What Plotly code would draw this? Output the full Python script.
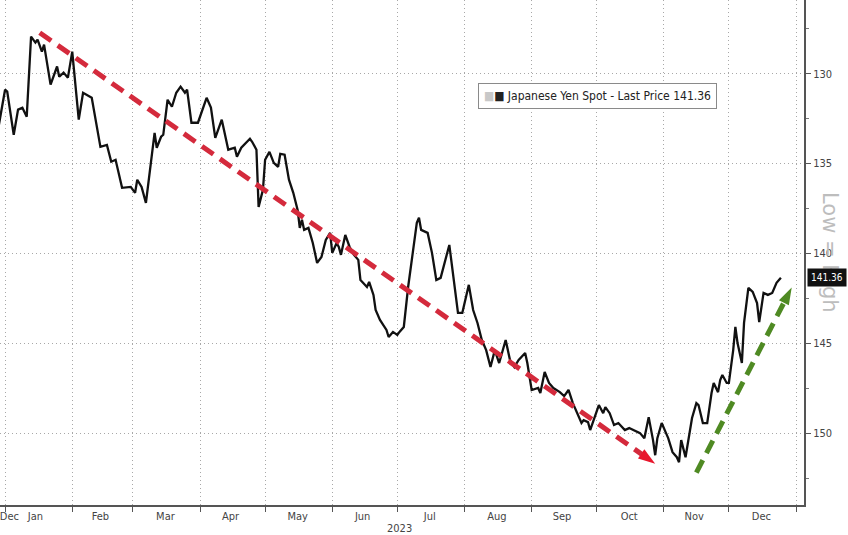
import plotly.graph_objects as go

# ---- data ----
dates = [
    "2022-12-29", "2023-01-01", "2023-01-02", "2023-01-05", "2023-01-07", "2023-01-09", "2023-01-11",
    "2023-01-13", "2023-01-15", "2023-01-16", "2023-01-18", "2023-01-19", "2023-01-22", "2023-01-25",
    "2023-01-26", "2023-01-28", "2023-01-30",
    "2023-02-01", "2023-02-04", "2023-02-06", "2023-02-10", "2023-02-14", "2023-02-17", "2023-02-19",
    "2023-02-21", "2023-02-24", "2023-02-28",
    "2023-03-02", "2023-03-03", "2023-03-05", "2023-03-07", "2023-03-09", "2023-03-11", "2023-03-12",
    "2023-03-14", "2023-03-15", "2023-03-17", "2023-03-19", "2023-03-21", "2023-03-23", "2023-03-25",
    "2023-03-26", "2023-03-28", "2023-03-31",
    "2023-04-04", "2023-04-06", "2023-04-08", "2023-04-11", "2023-04-14", "2023-04-17", "2023-04-18",
    "2023-04-20", "2023-04-24", "2023-04-25", "2023-04-27", "2023-04-28", "2023-04-30",
    "2023-05-01", "2023-05-03", "2023-05-05", "2023-05-07", "2023-05-08", "2023-05-10", "2023-05-12",
    "2023-05-14", "2023-05-16", "2023-05-17", "2023-05-18", "2023-05-19", "2023-05-21", "2023-05-23",
    "2023-05-25", "2023-05-27", "2023-05-29", "2023-05-31",
    "2023-06-01", "2023-06-03", "2023-06-04", "2023-06-05", "2023-06-07", "2023-06-09", "2023-06-11",
    "2023-06-13", "2023-06-14", "2023-06-17", "2023-06-18", "2023-06-20", "2023-06-21", "2023-06-23",
    "2023-06-26", "2023-06-27", "2023-06-29",
    "2023-07-01", "2023-07-02", "2023-07-04", "2023-07-06", "2023-07-08", "2023-07-10", "2023-07-11",
    "2023-07-12", "2023-07-15", "2023-07-17", "2023-07-19", "2023-07-21", "2023-07-25", "2023-07-26",
    "2023-07-29", "2023-07-31",
    "2023-08-03", "2023-08-05", "2023-08-07", "2023-08-09", "2023-08-11", "2023-08-13", "2023-08-15",
    "2023-08-17", "2023-08-20", "2023-08-22", "2023-08-24", "2023-08-26", "2023-08-29", "2023-08-30",
    "2023-09-01", "2023-09-04", "2023-09-05", "2023-09-07", "2023-09-09", "2023-09-11", "2023-09-14",
    "2023-09-16", "2023-09-18", "2023-09-20", "2023-09-22", "2023-09-24", "2023-09-25", "2023-09-27",
    "2023-09-28", "2023-09-30",
    "2023-10-01", "2023-10-02", "2023-10-04", "2023-10-05", "2023-10-07", "2023-10-09", "2023-10-11",
    "2023-10-14", "2023-10-16", "2023-10-18", "2023-10-21", "2023-10-23", "2023-10-25", "2023-10-27",
    "2023-10-28", "2023-10-29", "2023-10-31",
    "2023-11-02", "2023-11-03", "2023-11-05", "2023-11-07", "2023-11-08", "2023-11-09", "2023-11-11",
    "2023-11-14", "2023-11-16", "2023-11-17", "2023-11-19", "2023-11-21", "2023-11-23", "2023-11-24",
    "2023-11-26", "2023-11-27", "2023-11-28", "2023-11-30",
    "2023-12-01", "2023-12-03", "2023-12-04", "2023-12-05", "2023-12-07", "2023-12-08", "2023-12-10",
    "2023-12-12", "2023-12-14", "2023-12-15", "2023-12-17", "2023-12-19", "2023-12-21", "2023-12-23",
    "2023-12-25",
]

usdjpy = [
    132.95, 130.89, 131.0, 133.4, 132.0, 131.9, 132.4, 127.94, 128.27, 128.1, 128.77, 128.38, 130.61,
    129.6, 130.17, 129.94, 130.22,
    128.77, 132.56, 131.06, 131.34, 134.07, 133.96, 134.9, 134.79, 136.35, 136.3,
    136.63, 135.9, 136.3, 137.19, 135.18, 133.29, 134.12, 133.51, 133.4, 131.45, 131.84, 131.06, 130.72,
    131.06, 130.89, 132.73, 132.73,
    131.34, 131.89, 133.57, 132.56, 134.23, 134.12, 134.62, 134.12, 133.62, 133.79, 134.23, 137.41, 136.46,
    134.79, 134.35, 134.96, 135.18, 134.46, 134.51, 135.9, 136.63, 137.58, 138.58, 138.13, 138.69, 138.58,
    139.42, 140.53, 140.2, 139.25, 138.86,
    139.97, 139.42, 139.64, 140.08, 138.97, 139.64, 140.08, 140.36, 141.48, 141.87, 141.59, 142.31, 143.15,
    143.7, 144.26, 144.65, 144.37,
    144.54, 144.37, 144.09, 141.87, 139.97, 138.3, 138.02, 138.69, 138.86, 139.97, 141.48, 141.36, 139.53,
    140.53, 143.31, 143.31,
    141.75, 143.15, 143.87, 144.82, 145.38, 146.32, 145.38, 146.1, 144.82, 145.93, 146.32, 145.93, 145.54,
    146.1,
    147.6, 147.49, 147.77, 146.6, 147.21, 147.49, 147.72, 147.94, 147.6, 148.33, 148.89, 149.44, 149.28,
    149.39, 149.83, 149.11,
    148.72, 148.44, 148.89, 148.55, 148.89, 149.55, 149.44, 149.83, 149.72, 149.83, 150.0, 150.28, 149.11,
    150.39, 151.23, 150.28, 149.44,
    150.0, 150.28, 151.06, 151.34, 151.62, 150.39, 151.34, 149.16, 148.33, 148.44, 149.44, 149.44, 147.77,
    147.21, 147.72, 147.05, 146.77, 147.21,
    147.21, 145.38, 144.09, 144.99, 146.1, 143.87, 141.92, 142.14, 142.76, 143.82, 142.2, 142.31, 142.2,
    141.64, 141.36,
]

last_price = 141.36

down_trend_dates = ["2023-01-17", "2023-10-28"]
down_trend_vals = [127.72, 151.7]
up_trend_dates = ["2023-11-16", "2023-12-30"]
up_trend_vals = [152.2, 141.9]

month_labels = ["Dec", "Jan", "Feb", "Mar", "Apr", "May", "Jun", "Jul", "Aug", "Sep", "Oct", "Nov", "Dec"]
month_label_pos = ["2023-01-03", "2023-01-15", "2023-02-14", "2023-03-16", "2023-04-15", "2023-05-16",
                   "2023-06-15", "2023-07-16", "2023-08-16", "2023-09-15", "2023-10-16", "2023-11-15",
                   "2023-12-16"]
y_ticks = [130, 135, 140, 145, 150]
year_label = "2023"
series_name = "Japanese Yen Spot - Last Price"
axis_note = "Low = High"

FONT = "Liberation Sans Narrow, Arial Narrow, DejaVu Sans Condensed, sans-serif"

fig = go.Figure()

fig.add_trace(go.Scatter(
    x=dates, y=usdjpy, mode="lines",
    line=dict(color="#111111", width=2.3),
    showlegend=False, hoverinfo="skip",
))

fig.add_trace(go.Scatter(
    x=down_trend_dates, y=down_trend_vals, mode="lines+markers",
    line=dict(color="#d42a3c", width=5, dash="14px,8px"),
    marker=dict(symbol="arrow", size=[0, 18], color="#e8162c", opacity=1,
                line=dict(width=0), angleref="previous"),
    showlegend=False, hoverinfo="skip",
))

fig.add_trace(go.Scatter(
    x=up_trend_dates, y=up_trend_vals, mode="lines+markers",
    line=dict(color="#4f8a23", width=5, dash="14px,8px"),
    marker=dict(symbol="arrow", size=[0, 18], color="#4f8a23", opacity=1,
                line=dict(width=0), angleref="previous"),
    showlegend=False, hoverinfo="skip",
))

fig.update_layout(
    width=848, height=535,
    margin=dict(l=0, r=44, t=0, b=30, pad=0),
    paper_bgcolor="white", plot_bgcolor="white",
    font=dict(family=FONT, size=11, color="#333333"),
    xaxis=dict(
        type="date", automargin=False, ticklabeloverflow="allow",
        range=["2022-12-29 16:00", "2024-01-04 16:00"],
        tickvals=month_label_pos, ticktext=month_labels,
        ticks="", showgrid=False,
        tickfont=dict(size=11, color="#444444"),
        showline=True, linecolor="#555555", linewidth=2,
        minor=dict(dtick="M1", tick0="2023-01-01", ticks="outside", ticklen=5,
                   tickcolor="#555555", showgrid=True, gridcolor="#a8a8a8",
                   griddash="1px,3px", gridwidth=1.3),
        zeroline=False,
    ),
    yaxis=dict(
        side="right", automargin=False,
        range=[154.0, 125.9],
        tickvals=y_ticks,
        ticks="outside", ticklen=5, tickcolor="#555555",
        tickfont=dict(size=11, color="#444444"),
        showgrid=True, gridcolor="#a8a8a8", griddash="1px,3px", gridwidth=1.3,
        showline=True, linecolor="#555555", linewidth=2,
        minor=dict(dtick=2.5, tick0=130, ticks="outside", ticklen=3, tickcolor="#777777",
                   showgrid=False),
        zeroline=False,
    ),
)

# legend-like box
fig.add_annotation(
    xref="paper", yref="paper", x=0.743, y=0.81, xanchor="center", yanchor="middle",
    text="<span style='color:#c8c8c8'>■</span>■ " + series_name + " " + f"{last_price:.2f}",
    showarrow=False, font=dict(family=FONT, size=12, color="#222222"),
    bgcolor="white", bordercolor="#8a8a8a", borderwidth=1, borderpad=5,
)

# "Low = High" rotated label
fig.add_annotation(
    xref="paper", yref="paper", x=1.033, y=0.50, xanchor="center", yanchor="middle",
    text=axis_note, textangle=90, showarrow=False,
    font=dict(family="DejaVu Sans, sans-serif", size=21, color="#bdbdbd"),
)

# last price tag
fig.add_annotation(
    xref="paper", yref="y", x=1.004, y=last_price, xanchor="left", yanchor="middle",
    text=f"{last_price:.2f}", showarrow=False,
    font=dict(family=FONT, size=10, color="white"),
    bgcolor="#111111", borderpad=3,
)

# year label
fig.add_annotation(
    xref="x", yref="paper", x="2023-07-02", y=-0.03, xanchor="center", yanchor="top",
    text=year_label, showarrow=False, font=dict(family=FONT, size=11, color="#444444"),
)

fig.write_html(
    "out.html",
    config={"displayModeBar": False},
    post_script="document.body.style.margin='0px';document.body.style.overflow='hidden';",
)
